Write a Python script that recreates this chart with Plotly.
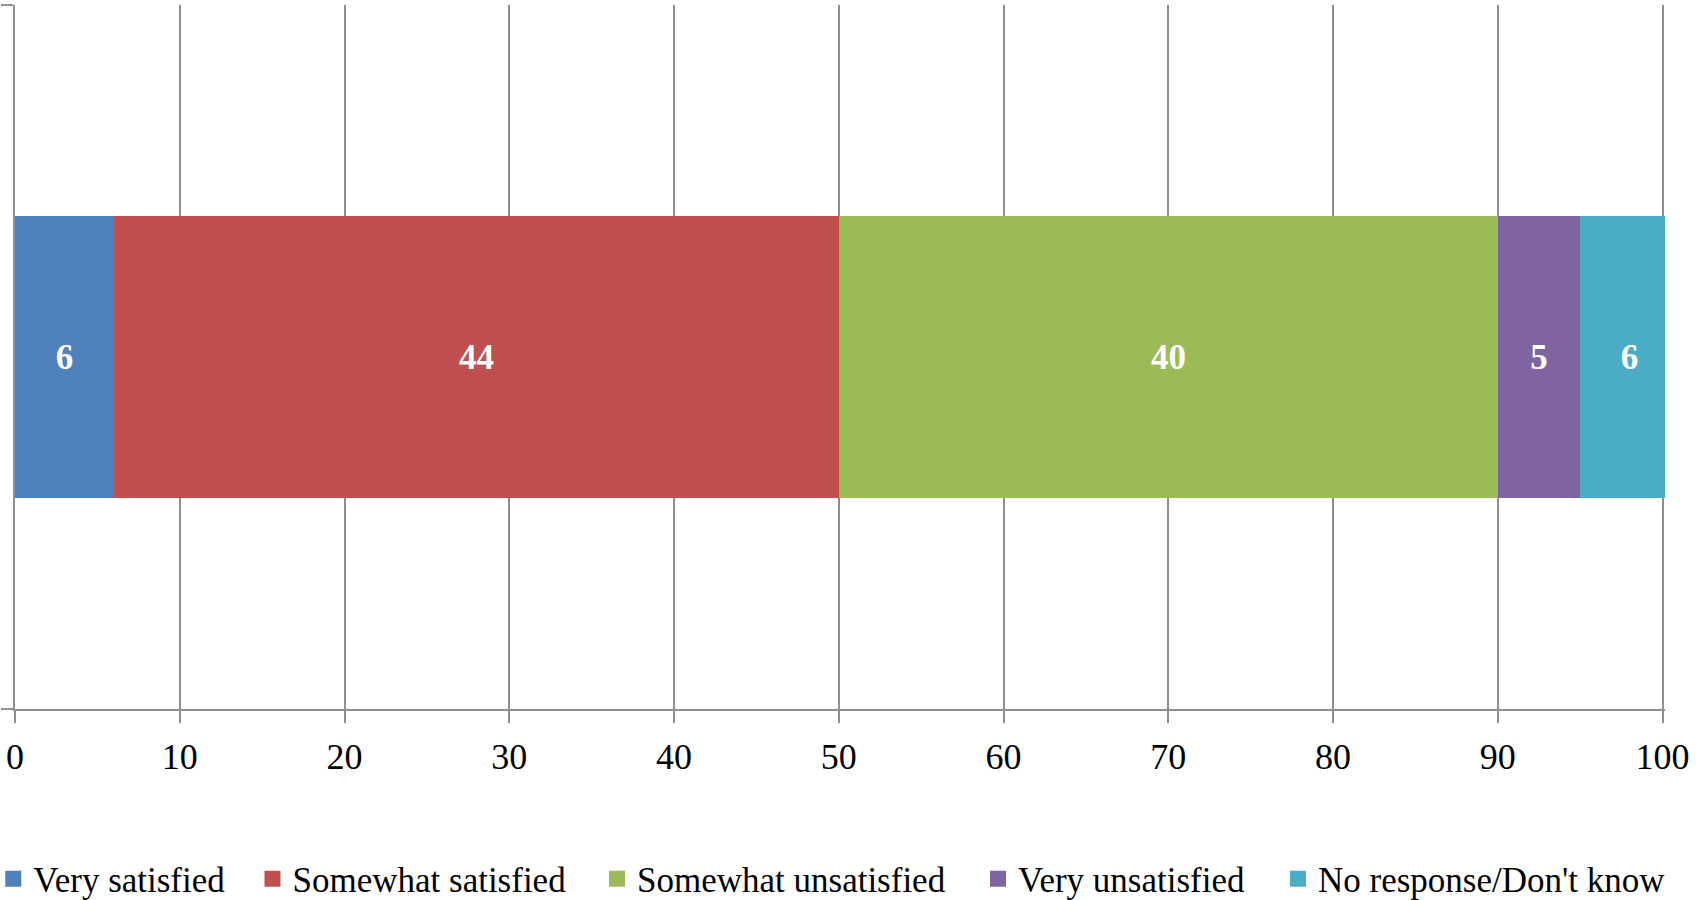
import plotly.graph_objects as go

# Data
categories = ["Very satisfied", "Somewhat satisfied", "Somewhat unsatisfied",
              "Very unsatisfied", "No response/Don't know"]
values = [6, 44, 40, 5, 6]
colors = ["#4F81BD", "#C0504D", "#9BBB59", "#8064A2", "#4BACC6"]
x_ticks = [0, 10, 20, 30, 40, 50, 60, 70, 80, 90, 100]

FONT = "Liberation Serif"
GRID = "#8E8E8E"

W, H = 1700, 900
ML, MR, MT, MB = 15, 35, 5, 191
plot_w = W - ML - MR
plot_h = H - MT - MB

fig = go.Figure()

# legend square centers (pixels) for each separate legend
legend_centers_px = [13.3, 272.5, 617, 998, 1298]
legend_y_px = 879

for i, (cat, val, col) in enumerate(zip(categories, values, colors)):
    fig.add_trace(go.Bar(
        x=[val], y=[0], orientation="h", name=cat,
        marker=dict(color=col, line=dict(width=0)),
        width=0.4,
        text=[str(val)], textposition="inside", insidetextanchor="middle",
        textangle=0, constraintext="none",
        textfont=dict(family=FONT, size=35, color="white", weight="bold"),
        showlegend=False, hoverinfo="x+name",
    ))

for i, (cat, col) in enumerate(zip(categories, colors)):
    lg = "legend" if i == 0 else f"legend{i+1}"
    fig.add_trace(go.Scatter(
        x=[None], y=[None], mode="markers", name=cat,
        marker=dict(symbol="square", size=16, color=col),
        legend=lg, showlegend=True,
    ))

layout_legends = {}
for i in range(len(categories)):
    lg = "legend" if i == 0 else f"legend{i+1}"
    left_px = legend_centers_px[i] - 20
    layout_legends[lg] = dict(
        x=(left_px - ML) / plot_w, xanchor="left",
        y=(H - MB - legend_y_px) / plot_h, yanchor="middle",
        orientation="h", bgcolor="rgba(0,0,0,0)", borderwidth=0,
        font=dict(family=FONT, size=35, color="black"),
        itemsizing="trace",
    )

fig.update_layout(
    width=W, height=H,
    margin=dict(l=ML, r=MR, t=MT, b=MB, autoexpand=False),
    paper_bgcolor="white", plot_bgcolor="white",
    barmode="stack", bargap=0,
    font=dict(family=FONT, color="black"),
    xaxis=dict(
        range=[0, 100.15], tickvals=x_ticks, ticktext=[str(t) for t in x_ticks],
        showgrid=True, gridcolor=GRID, gridwidth=2,
        showline=True, linecolor=GRID, linewidth=2,
        ticks="outside", ticklen=12, tickwidth=2, tickcolor=GRID,
        tickfont=dict(family=FONT, size=36, color="black"),
        ticklabelstandoff=3,
        zeroline=False, fixedrange=True,
    ),
    yaxis=dict(
        range=[-0.5, 0.5], tickvals=[-0.5, 0.5], showticklabels=False,
        showgrid=False, zeroline=False,
        showline=True, linecolor=GRID, linewidth=2,
        ticks="outside", ticklen=12, tickwidth=2, tickcolor=GRID,
        fixedrange=True,
    ),
    **layout_legends,
)

fig.write_html(
    "out.html",
    config={"displayModeBar": False},
    post_script="document.body.style.margin='0';document.body.style.overflow='hidden';",
)
